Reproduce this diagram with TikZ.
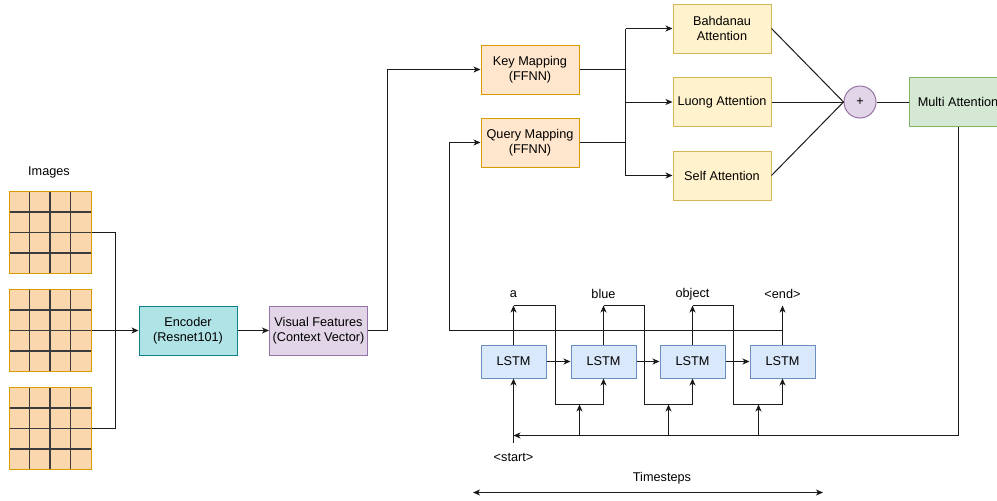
\documentclass[tikz,border=0pt]{standalone}
\usepackage{fontspec}
\setmainfont{Liberation Sans}
\usetikzlibrary{arrows.meta,calc}
\definecolor{gridfill}{HTML}{FAD7AC}
\definecolor{gridborder}{HTML}{D79B00}
\definecolor{encfill}{HTML}{B0E3E6}
\definecolor{encborder}{HTML}{0E8088}
\definecolor{purfill}{HTML}{E1D5E7}
\definecolor{purborder}{HTML}{9673A6}
\definecolor{mapfill}{HTML}{FFE6CC}
\definecolor{mapborder}{HTML}{D79B00}
\definecolor{attfill}{HTML}{FFF2CC}
\definecolor{attborder}{HTML}{D6B656}
\definecolor{grnfill}{HTML}{D5E8D4}
\definecolor{grnborder}{HTML}{82B366}
\definecolor{bluefill}{HTML}{DAE8FC}
\definecolor{blueborder}{HTML}{6C8EBF}
\definecolor{linecol}{HTML}{1A1A1A}
\tikzset{
  box/.style={draw, line width=1pt, minimum width=98pt, minimum height=49pt, inner sep=1pt, align=center},
  encbox/.style={box, fill=encfill, draw=encborder},
  purbox/.style={box, fill=purfill, draw=purborder},
  mapbox/.style={box, fill=mapfill, draw=mapborder},
  attbox/.style={box, fill=attfill, draw=attborder},
  grnbox/.style={box, fill=grnfill, draw=grnborder},
  lstmbox/.style={box, fill=bluefill, draw=blueborder, minimum width=65pt, minimum height=33pt},
  plusnode/.style={circle, draw=purborder, fill=purfill, line width=1pt, minimum size=32pt, inner sep=0pt},
  lbl/.style={inner sep=0pt},
  conn/.style={draw=linecol, line width=1pt},
  arr/.style={conn, -{Stealth[length=7pt,width=6pt,inset=2pt]}},
  dblarr/.style={conn, {Stealth[length=7pt,width=6pt,inset=2pt]}-{Stealth[length=7pt,width=6pt,inset=2pt]}},
  imggrid/.style={draw=gridborder, fill=gridfill, line width=1pt, minimum width=82pt, minimum height=82pt, inner sep=0pt,
    path picture={
      \foreach \i in {1,2,3}{
        \draw[draw=linecol!85, line width=1.1pt]
          ($(path picture bounding box.south west)!\i/4!(path picture bounding box.south east)$) --
          ($(path picture bounding box.north west)!\i/4!(path picture bounding box.north east)$);
        \draw[draw=linecol!85, line width=1.1pt]
          ($(path picture bounding box.south west)!\i/4!(path picture bounding box.north west)$) --
          ($(path picture bounding box.south east)!\i/4!(path picture bounding box.north east)$);
      }
    }},
}
\begin{document}
\begin{tikzpicture}[x=1pt, y=-1pt, font=\fontsize{12.7}{15.5}\selectfont]
\useasboundingbox (0,0) rectangle (997,501);

% images
\node[lbl] (imgs) at (49,172) {Images};
\node[imggrid] (g1) at (50,232.5) {};
\node[imggrid] (g2) at (50,330.5) {};
\node[imggrid] (g3) at (50,428.5) {};
\coordinate (jx) at (115.5,330.5);

% encoder path
\node[encbox] (enc) at (188,330.5) {Encoder\\(Resnet101)};
\node[purbox] (vf) at (318.5,330.5) {Visual Features\\(Context Vector)};
\coordinate (vk) at (387.5,330.5);

% mappings
\node[mapbox] (key) at (530,69.5) {Key Mapping\\(FFNN)};
\node[mapbox] (query) at (530,142.5) {Query Mapping\\(FFNN)};

% attentions
\node[attbox] (bah) at (722,28.5) {Bahdanau\\Attention};
\node[attbox] (luong) at (722,102) {Luong Attention};
\node[attbox] (self) at (722,175.5) {Self Attention};
\coordinate (jt) at (625.5,28.5);
\coordinate (jb) at (625.5,175.5);

\node[plusnode] (plus) at (860,102) {+};
\node[grnbox] (multi) at (958,102) {Multi Attention};

% LSTMs
\node[lstmbox] (l1) at (513.5,361.5) {LSTM};
\node[lstmbox] (l2) at (603.5,361.5) {LSTM};
\node[lstmbox] (l3) at (692.5,361.5) {LSTM};
\node[lstmbox] (l4) at (782.5,361.5) {LSTM};

% output labels
\node[lbl] (w1) at (513.5,294) {a};
\node[lbl] (w2) at (603.5,294) {blue};
\node[lbl] (w3) at (692.5,294) {object};
\node[lbl] (w4) at (782.5,294) {<end>};
\coordinate (t1) at (513.5,305.5);
\coordinate (t2) at (603.5,305.5);
\coordinate (t3) at (692.5,305.5);
\coordinate (t4) at (782.5,305.5);

% feedback bends
\coordinate (f1) at (555.5,404.5);
\coordinate (f2) at (644.5,404.5);
\coordinate (f3) at (733.5,404.5);

% context line
\coordinate (j0) at (513.5,435.5);
\coordinate (c1) at (579.5,435.5);
\coordinate (c2) at (668.5,435.5);
\coordinate (c3) at (758.5,435.5);
\coordinate (c1t) at (579.5,404.5);
\coordinate (c2t) at (668.5,404.5);
\coordinate (c3t) at (758.5,404.5);

\coordinate (sb) at (513.5,443);
\node[lbl] (start) at (513.5,457) {<start>};

% big feedback
\coordinate (fb) at (782.5,330.5);
\coordinate (fbc) at (449.5,330.5);

% timesteps
\node[lbl] (ts) at (662,478) {Timesteps};
\coordinate (ts1) at (473,492.5);
\coordinate (ts2) at (823,492.5);

% ---- connectors ----
\draw[conn] (g1.east) -| (jx) |- (g3.east);
\draw[arr] (g2.east) -- (enc.west);
\draw[arr] (enc.east) -- (vf.west);
\draw[arr] (vf.east) -- (vk) |- (key.west);

\draw[conn] (key.east) -- (key.east -| jt);
\draw[conn] (query.east) -- (query.east -| jt);
\draw[conn] (jt) -- (jb);
\draw[arr] (jt) -- (bah.west);
\draw[arr] (jt |- luong.west) -- (luong.west);
\draw[arr] (jb) -- (self.west);

\draw[conn] (bah.east) -- (plus.west);
\draw[conn] (luong.east) -- (plus.west);
\draw[conn] (self.east) -- (plus.west);
\draw[conn] (plus.east) -- (multi.west);

\draw[arr] (l1.east) -- (l2.west);
\draw[arr] (l2.east) -- (l3.west);
\draw[arr] (l3.east) -- (l4.west);

\draw[arr] (l1.north) -- (t1);
\draw[arr] (l2.north) -- (t2);
\draw[arr] (l3.north) -- (t3);
\draw[arr] (l4.north) -- (t4);

\draw[arr] (t1) -| (f1) -| (l2.south);
\draw[arr] (t2) -| (f2) -| (l3.south);
\draw[arr] (t3) -| (f3) -| (l4.south);

\draw[arr] (fb) -- (fbc) |- (query.west);

\draw[arr] (multi.south) |- (j0);
\draw[arr] (c1) -- (c1t);
\draw[arr] (c2) -- (c2t);
\draw[arr] (c3) -- (c3t);
\draw[arr] (sb) -- (l1.south);

\draw[dblarr] (ts1) -- (ts2);
\end{tikzpicture}
\end{document}
